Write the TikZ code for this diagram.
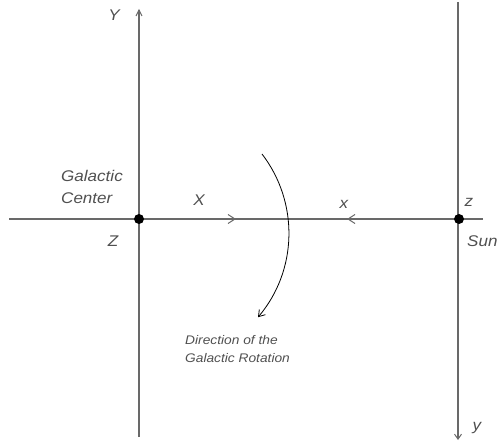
\documentclass[tikz,border=0pt]{standalone}
\usepackage{fontspec}
\setmainfont{Liberation Sans}
\newfontfamily\lblfont[FakeStretch=1.1]{Liberation Sans}
\usetikzlibrary{arrows.meta,calc}
\definecolor{axisgray}{RGB}{105,105,105}
\definecolor{textgray}{RGB}{80,80,80}
\tikzset{
  axis/.style={draw=axisgray,line width=1.5pt},
  chev/.style={draw=axisgray,line width=1pt},
  lbl/.style={inner sep=0pt,text=textgray,font=\lblfont\fontsize{15.5}{22}\selectfont\itshape},
  smalllbl/.style={inner sep=0pt,text=textgray,align=left,font=\lblfont\fontsize{12.5}{17.5}\selectfont\itshape},
  dotnode/.style={circle,fill=black,inner sep=0pt,minimum size=10pt}
}
\begin{document}
\begin{tikzpicture}[x=1pt,y=-1pt]
\useasboundingbox (0,0) rectangle (498,443);
% coordinates
\coordinate (hl) at (9,219);
\coordinate (hr) at (483,219);
\coordinate (Ytop) at (139,10);
\coordinate (Ybot) at (139,437);
\coordinate (ytop) at (458,2);
\coordinate (ybot) at (458,440);
\coordinate (arcstart) at (262,154);
% axes
\draw[axis] (Ybot) -- (Ytop);
\draw[axis,-{Straight Barb[length=5pt,width=7pt,line width=1pt]}] (ytop) -- (ybot);
\draw[axis] (hl) -- (hr);
% inline arrowheads on the horizontal axis
\coordinate (Xarr) at (235,219);
\coordinate (xarr) at (348,219);
\draw[chev] ($(Xarr)+(-7,-4.5)$) -- (Xarr) -- ($(Xarr)+(-7,4.5)$);
\draw[chev] ($(xarr)+(7,-4.5)$) -- (xarr) -- ($(xarr)+(7,4.5)$);
% top arrow of Y
\draw[chev] ($(Ytop)+(-3,6)$) -- (Ytop) -- ($(Ytop)+(3,6)$);
% rotation arc
\draw[line width=0.8pt,black,-{Straight Barb[length=6pt,width=8pt,line width=0.8pt]}] (arcstart) arc[start angle=-37.5,end angle=40.3,radius=130] coordinate (arcend);
% dots
\node[dotnode] (gc) at (139,219) {};
\node[dotnode] (sun) at (459,219) {};
% labels
\node[lbl] (lY) at (114,15) {Y};
\node[lbl,align=left,anchor=west] (lgc) at (61,187) {Galactic\\Center};
\node[lbl] (lX) at (199,200) {X};
\node[lbl] (lZ) at (113,241) {Z};
\node[lbl] (lx) at (344,204) {x};
\node[lbl] (lz) at (469,202) {z};
\node[lbl,anchor=west] (lsun) at (467,241) {Sun};
\node[lbl] (ly) at (477,428) {y};
\node[smalllbl,anchor=west] (ldir) at (185,349) {Direction of the\\Galactic Rotation};
\end{tikzpicture}
\end{document}
